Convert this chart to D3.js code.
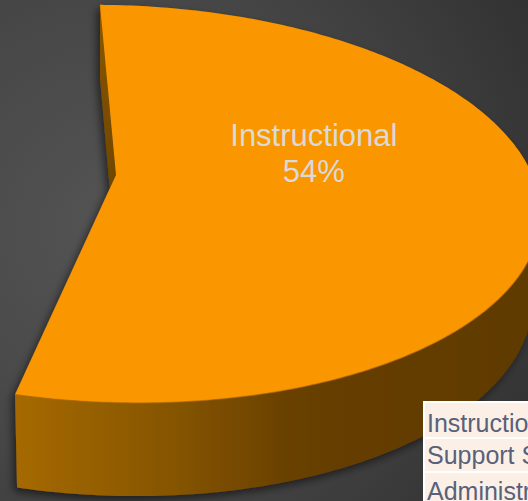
<!DOCTYPE html>
<html>
<head>
<meta charset="utf-8">
<script src="https://cdn.jsdelivr.net/npm/d3@7"></script>
<style>
  html, body { margin: 0; padding: 0; background: #3a3a3a; }
  svg { display: block; }
</style>
</head>
<body>
<div id="chart"></div>
<script>
// Spending shares by category (percent of budget)
const categories = ["Instructional", "Support Services", "Administration"];
const shares = [54, 33, 13];
const legendLabels = ["Instructional", "Support Services", "Administration"];
const focusCategory = "Instructional";

const W = 528, H = 501;

// Perspective camera for the tilted 3D pie
const cam = {
  cx: 116, cy: 175,        // screen position of the pie centre
  f: 2562,                 // focal length in px
  D: 6.1,                  // camera distance (pie radius = 1)
  tilt: 27.6 * Math.PI / 180,
  h: 0.229,                // slab thickness
  lean: 0.024              // slight clockwise lean of the whole pie
};
const sT = Math.sin(cam.tilt), cT = Math.cos(cam.tilt);

// theta clockwise from 12 o'clock, r in pie radii, z = height (0 = top face)
function project(theta, r, z) {
  const X = r * Math.sin(theta), Y = r * Math.cos(theta);
  const depth = cam.D + Y * cT - z * sT;
  const v = Y * sT + z * cT;
  const px = cam.f * X / depth, py = -cam.f * v / depth;
  return [cam.cx + px, cam.cy + py + px * cam.lean];
}

const startAngle = -2.5 * Math.PI / 180;
const pie = d3.pie().sort(null).value(d => d.value)
  .startAngle(startAngle).endAngle(startAngle + 2 * Math.PI);
const slices = pie(categories.map((c, i) => ({ name: c, value: shares[i] })));

const svg = d3.select("#chart").append("svg")
  .attr("width", W).attr("height", H);

const defs = svg.append("defs");

const bg = defs.append("radialGradient").attr("id", "bg")
  .attr("gradientUnits", "userSpaceOnUse")
  .attr("cx", 120).attr("cy", 230).attr("r", 520);
bg.append("stop").attr("offset", 0).attr("stop-color", "#545454");
bg.append("stop").attr("offset", 0.45).attr("stop-color", "#474747");
bg.append("stop").attr("offset", 1).attr("stop-color", "#2d2d2d");

const sideGrad = defs.append("linearGradient").attr("id", "side")
  .attr("gradientUnits", "userSpaceOnUse")
  .attr("x1", 18).attr("y1", 0).attr("x2", 528).attr("y2", 0);
sideGrad.append("stop").attr("offset", 0).attr("stop-color", "#a56902");
sideGrad.append("stop").attr("offset", 0.3).attr("stop-color", "#865500");
sideGrad.append("stop").attr("offset", 0.55).attr("stop-color", "#673f00");
sideGrad.append("stop").attr("offset", 1).attr("stop-color", "#603a00");

const faceGrad = defs.append("linearGradient").attr("id", "face")
  .attr("x1", 0).attr("y1", 0).attr("x2", 0).attr("y2", 1);
faceGrad.append("stop").attr("offset", 0).attr("stop-color", "#8a5700");
faceGrad.append("stop").attr("offset", 1).attr("stop-color", "#654000");

const shadow = defs.append("filter").attr("id", "shadow")
  .attr("x", "-20%").attr("y", "-20%").attr("width", "140%").attr("height", "140%");
shadow.append("feDropShadow").attr("dx", -3).attr("dy", 4)
  .attr("stdDeviation", 4).attr("flood-color", "#000").attr("flood-opacity", 0.55);

svg.append("rect").attr("width", W).attr("height", H).attr("fill", "url(#bg)");

const line = d3.line();
const steps = 240;

function arcPoints(a0, a1, z) {
  return d3.range(steps + 1).map(i => project(a0 + (a1 - a0) * i / steps, 1, z));
}

const pieG = svg.append("g").attr("filter", "url(#shadow)");

slices.filter(s => s.data.name === focusCategory).forEach(s => {
  const a0 = s.startAngle, a1 = s.endAngle;

  // outer rim (drawn first; back part is covered by the top face)
  const rimTop = arcPoints(a0, a1, 0);
  const rimBot = arcPoints(a0, a1, -cam.h).reverse();
  pieG.append("path")
    .attr("d", line(rimTop.concat(rimBot)) + "Z")
    .attr("fill", "url(#side)");

  // cut face along the start edge
  pieG.append("path")
    .attr("d", line([project(0, 0, 0), project(a0, 1, 0),
                     project(a0, 1, -cam.h), project(0, 0, -cam.h)]) + "Z")
    .attr("fill", "url(#face)");

  // top face
  pieG.append("path")
    .attr("d", line([project(0, 0, 0)].concat(rimTop)) + "Z")
    .attr("fill", "#fa9605");

  // soft edge between top face and rim
  pieG.append("path")
    .attr("d", line(arcPoints(Math.max(a0, 1.75), a1, 0)))
    .attr("fill", "none")
    .attr("stroke", "#b06a00").attr("stroke-width", 1.2).attr("stroke-opacity", 0.6);

  // data label
  const mid = (a0 + a1) / 2;
  const [lx, ly] = project(mid, 0.47, 0);
  const lbl = svg.append("text")
    .attr("text-anchor", "middle")
    .attr("font-family", "'Liberation Sans', Arial, sans-serif")
    .attr("font-size", 31)
    .attr("fill", "#dadada");
  lbl.append("tspan").attr("x", lx).attr("y", ly - 41).text(s.data.name);
  lbl.append("tspan").attr("x", lx).attr("y", ly - 5)
    .text(d3.format(".0%")(s.data.value / d3.sum(shares)));
});

// legend table
const lg = svg.append("g").attr("transform", "translate(423,401)");
lg.append("rect").attr("width", 120).attr("height", 110).attr("fill", "#ffffff");
const rowY = [2, 38, 72], rowH = [34, 32, 40], baseY = [31, 63, 99];
legendLabels.forEach((t, i) => {
  lg.append("rect").attr("x", 2).attr("y", rowY[i])
    .attr("width", 120).attr("height", rowH[i]).attr("fill", "#fcefe6");
  lg.append("text").attr("x", 4).attr("y", baseY[i])
    .attr("font-family", "'Liberation Sans', Arial, sans-serif")
    .attr("font-size", 25).attr("fill", "#58617a").text(t);
});
</script>
</body>
</html>
